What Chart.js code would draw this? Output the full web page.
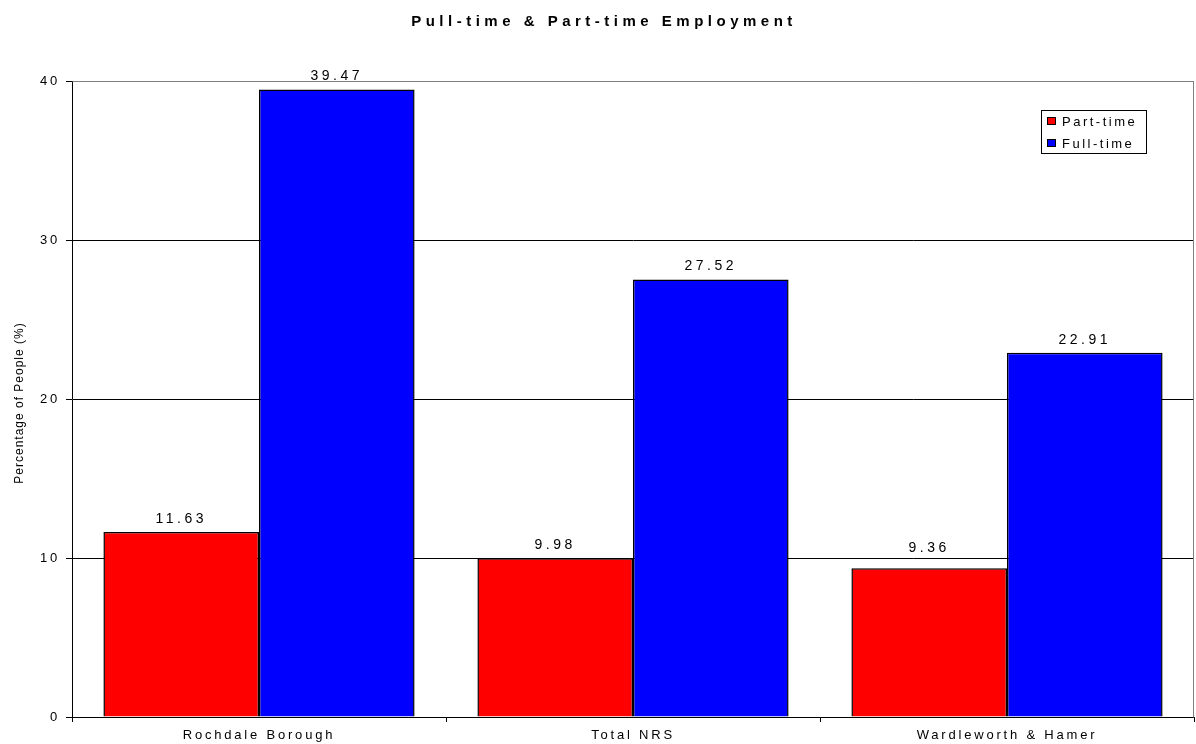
<!DOCTYPE html>
<html>
<head>
<meta charset="utf-8">
<script src="https://cdn.jsdelivr.net/npm/chart.js@4"></script>
<style>
  html, body { margin: 0; padding: 0; background: #fff; }
  #wrap { width: 1196px; height: 744px; position: relative; }
</style>
</head>
<body>
<div id="wrap"><canvas id="c" width="1196" height="744"></canvas></div>
<script>
const chartTitle = "Pull-time & Part-time Employment";
const yAxisTitle = "Percentage of People (%)";
const categories = ["Rochdale Borough", "Total NRS", "Wardleworth & Hamer"];
const seriesNames = ["Part-time", "Full-time"];
const partTime = [11.63, 9.98, 9.36];
const fullTime = [39.47, 27.52, 22.91];
const seriesColors = ["#FF0000", "#0000FF"];
const yTicks = [0, 10, 20, 30, 40];

const FONT = '"Liberation Sans", Arial, sans-serif';

const customDraw = {
  id: 'customDraw',
  beforeDraw(chart) {
    const ctx = chart.ctx;
    ctx.save();
    ctx.fillStyle = '#fff';
    ctx.fillRect(0, 0, chart.width, chart.height);
    ctx.restore();
    ctx.letterSpacing = '2.8px';
  },
  afterDatasetsDraw(chart) {
    const ctx = chart.ctx;
    const ca = chart.chartArea;
    const yScale = chart.scales.y;
    // plot border (gray top & right)
    ctx.save();
    ctx.strokeStyle = '#808080';
    ctx.lineWidth = 1;
    ctx.beginPath();
    ctx.moveTo(Math.round(ca.left) + 0.5, Math.round(ca.top) + 0.5);
    ctx.lineTo(Math.round(ca.right) - 0.5, Math.round(ca.top) + 0.5);
    ctx.lineTo(Math.round(ca.right) - 0.5, Math.round(ca.bottom) + 0.5);
    ctx.stroke();
    ctx.restore();

    // data labels (nudged above a gridline if they would sit on it)
    const gridPix = yTicks.map(v => yScale.getPixelForValue(v));
    ctx.save();
    ctx.letterSpacing = '3.5px';
    ctx.font = '14px ' + FONT;
    ctx.fillStyle = '#000';
    ctx.textAlign = 'center';
    ctx.textBaseline = 'alphabetic';
    chart.data.datasets.forEach((ds, di) => {
      const meta = chart.getDatasetMeta(di);
      meta.data.forEach((el, i) => {
        let base = el.y - 9;
        gridPix.forEach(g => {
          if (g >= base - 12 && g <= base) base = g - 6;
        });
        ctx.fillText(ds.data[i].toFixed(2), el.x, base);
      });
    });
    ctx.restore();
  },
  afterDraw(chart) {
    const ctx = chart.ctx;
    ctx.save();
    // title
    ctx.letterSpacing = '4.5px';
    ctx.font = 'bold 15px ' + FONT;
    ctx.fillStyle = '#000';
    ctx.textAlign = 'center';
    ctx.textBaseline = 'middle';
    ctx.fillText(chartTitle, 604, 22);

    // y-axis title
    ctx.letterSpacing = '1px';
    ctx.font = '12px ' + FONT;
    ctx.translate(20, 403);
    ctx.rotate(-Math.PI / 2);
    ctx.fillText(yAxisTitle, 0, 0);
    ctx.restore();

    // legend
    ctx.save();
    const lx = 1041, ly = 110, lw = 105, lh = 43;
    ctx.fillStyle = '#fff';
    ctx.fillRect(lx, ly, lw, lh);
    ctx.strokeStyle = '#000';
    ctx.lineWidth = 1;
    ctx.strokeRect(lx + 0.5, ly + 0.5, lw, lh);
    ctx.font = '13px ' + FONT;
    ctx.letterSpacing = '2.5px';
    ctx.textAlign = 'left';
    ctx.textBaseline = 'middle';
    seriesNames.forEach((name, i) => {
      const cy = ly + 11 + i * 22;
      ctx.fillStyle = seriesColors[i];
      ctx.fillRect(lx + 6, cy - 4, 9, 8);
      ctx.strokeStyle = '#000';
      ctx.strokeRect(lx + 6.5, cy - 3.5, 8, 7);
      ctx.fillStyle = '#000';
      ctx.fillText(name, lx + 21, cy + 1);
    });
    ctx.restore();
    ctx.letterSpacing = '0px';
  }
};

new Chart(document.getElementById('c'), {
  type: 'bar',
  data: {
    labels: categories,
    datasets: [
      { label: seriesNames[0], data: partTime, backgroundColor: seriesColors[0], borderColor: '#000', borderWidth: 1.5 },
      { label: seriesNames[1], data: fullTime, backgroundColor: seriesColors[1], borderColor: '#000', borderWidth: 1.5 }
    ]
  },
  options: {
    responsive: false,
    animation: false,
    devicePixelRatio: 1,
    layout: { padding: { left: 0, right: 2, top: 81, bottom: 0 } },
    datasets: { bar: { categoryPercentage: 0.832, barPercentage: 1.0 } },
    plugins: { legend: { display: false }, title: { display: false }, tooltip: { enabled: false } },
    scales: {
      x: {
        afterFit(scale) { scale.height = 27; },
        grid: { offset: true, drawOnChartArea: false, drawTicks: true, tickLength: 5, tickColor: '#000' },
        border: { color: '#000', width: 1 },
        ticks: { color: '#000', font: { family: FONT, size: 13 }, padding: 6, maxRotation: 0 }
      },
      y: {
        min: 0, max: 40,
        afterFit(scale) { scale.width = 72; },
        afterBuildTicks(scale) { scale.ticks = yTicks.map(v => ({ value: v })); },
        grid: {
          color: (c) => (c.tick && c.tick.value === 40 ? '#808080' : '#000'),
          lineWidth: 1,
          tickLength: 6,
          tickColor: '#000'
        },
        border: { color: '#000', width: 1 },
        ticks: { color: '#000', font: { family: FONT, size: 13 }, padding: 6, stepSize: 10 }
      }
    }
  },
  plugins: [customDraw]
});
</script>
</body>
</html>
